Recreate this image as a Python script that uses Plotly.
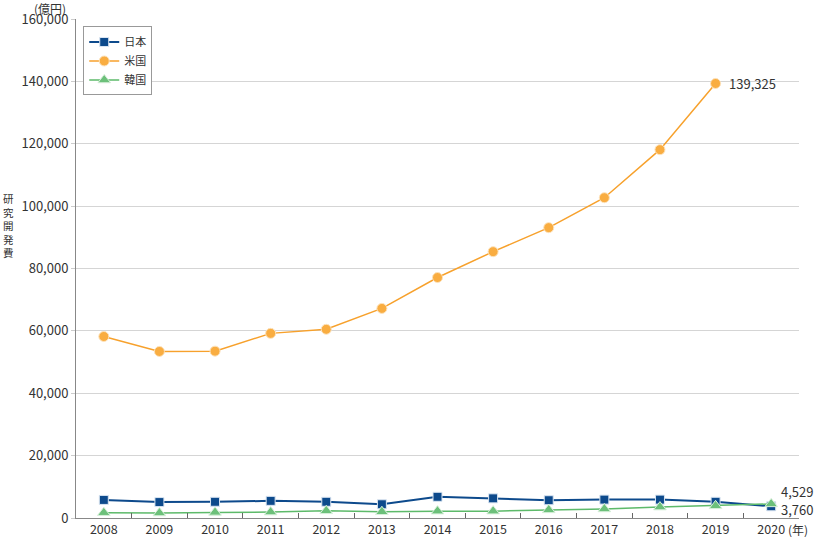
import plotly.graph_objects as go

years = ["2008", "2009", "2010", "2011", "2012", "2013", "2014", "2015", "2016", "2017", "2018", "2019", "2020"]
japan = [5800, 5100, 5200, 5500, 5200, 4400, 6800, 6300, 5700, 5900, 5900, 5200, 3760]
usa = [58200, 53400, 53500, 59200, 60500, 67200, 77100, 85400, 93100, 102700, 118100, 139325, None]
korea = [1700, 1600, 1800, 1900, 2300, 2000, 2200, 2200, 2600, 2900, 3500, 3900, 4529]
yticks = [0, 20000, 40000, 60000, 80000, 100000, 120000, 140000, 160000]
ytitle = "研究開発費"

FONT = "Noto Sans CJK JP"
TXT = "#333333"

fig = go.Figure()
fig.add_trace(go.Scatter(x=years, y=japan, name="日本", mode="lines+markers",
                         line=dict(color="#0d4a8c", width=2),
                         marker=dict(symbol="square", size=9, color="#0d4a8c",
                                     line=dict(color="#dbe6f2", width=1))))
fig.add_trace(go.Scatter(x=years, y=usa, name="米国", mode="lines+markers",
                         line=dict(color="#f7a12c", width=1.5),
                         marker=dict(symbol="circle", size=10, color="#f9ad41",
                                     line=dict(color="#fde3bd", width=1))))
fig.add_trace(go.Scatter(x=years, y=korea, name="韓国", mode="lines+markers",
                         line=dict(color="#5dba6a", width=1.5),
                         marker=dict(symbol="triangle-up", size=11, color="#6cc07a",
                                     line=dict(color="#d8efdb", width=1))))

fig.add_annotation(x=11, y=usa[11], text="139,325", showarrow=False,
                   xanchor="left", xshift=11, font=dict(size=13, color=TXT, family=FONT))
fig.add_annotation(x=12, y=korea[12], text="4,529", showarrow=False, borderpad=0,
                   xanchor="left", xshift=9, yshift=12, font=dict(size=13, color=TXT, family=FONT))
fig.add_annotation(x=12, y=japan[12], text="3,760", showarrow=False, borderpad=0,
                   xanchor="left", xshift=9, yshift=-3, font=dict(size=13, color=TXT, family=FONT))
fig.add_annotation(xref="paper", yref="paper", x=-0.036, y=1.0, yshift=11, text="(億円)",
                   showarrow=False, xanchor="center", yanchor="middle", borderpad=0,
                   font=dict(size=12, color=TXT, family=FONT))
fig.add_annotation(xref="paper", yref="paper", x=0.982, y=0, yshift=-11, text="(年)",
                   showarrow=False, xanchor="left", yanchor="middle",
                   font=dict(size=12, color=TXT, family=FONT))
for i, ch in enumerate(ytitle):
    fig.add_annotation(xref="paper", yref="paper", x=-0.094, y=0.586, yshift=27 - 13.5 * i,
                       text=ch, showarrow=False, xanchor="center", yanchor="middle", borderpad=0,
                       font=dict(size=10.5, color=TXT, family=FONT))

fig.update_layout(
    width=814, height=537,
    margin=dict(l=76, r=15, t=19, b=19),
    paper_bgcolor="white", plot_bgcolor="white",
    font=dict(family=FONT, size=13, color=TXT),
    showlegend=True,
    legend=dict(x=0.01, y=0.985, xanchor="left", yanchor="top",
                bgcolor="white", bordercolor="#999999", borderwidth=1,
                font=dict(size=11, color=TXT, family=FONT),
                itemwidth=30, tracegroupgap=0),
    xaxis=dict(type="category", range=[-0.5, 12.5], tickson="boundaries", ticks="inside", ticklen=5,
               tickcolor="#666666", showline=True, linecolor="#888888", linewidth=1,
               showgrid=False, automargin=False, tickfont=dict(size=12.5, color=TXT)),
    yaxis=dict(range=[0, 160000], tickvals=yticks, tickformat=",d",
               ticks="outside", ticklen=4, tickcolor="#cccccc",
               showline=True, linecolor="#888888", linewidth=1,
               showgrid=True, gridcolor="#d5d5d5", gridwidth=1,
               zeroline=False, automargin=False, tickfont=dict(size=13, color=TXT)),
)

fig.write_html("out.html", config={"displayModeBar": False},
               post_script="document.body.style.margin='0';")
